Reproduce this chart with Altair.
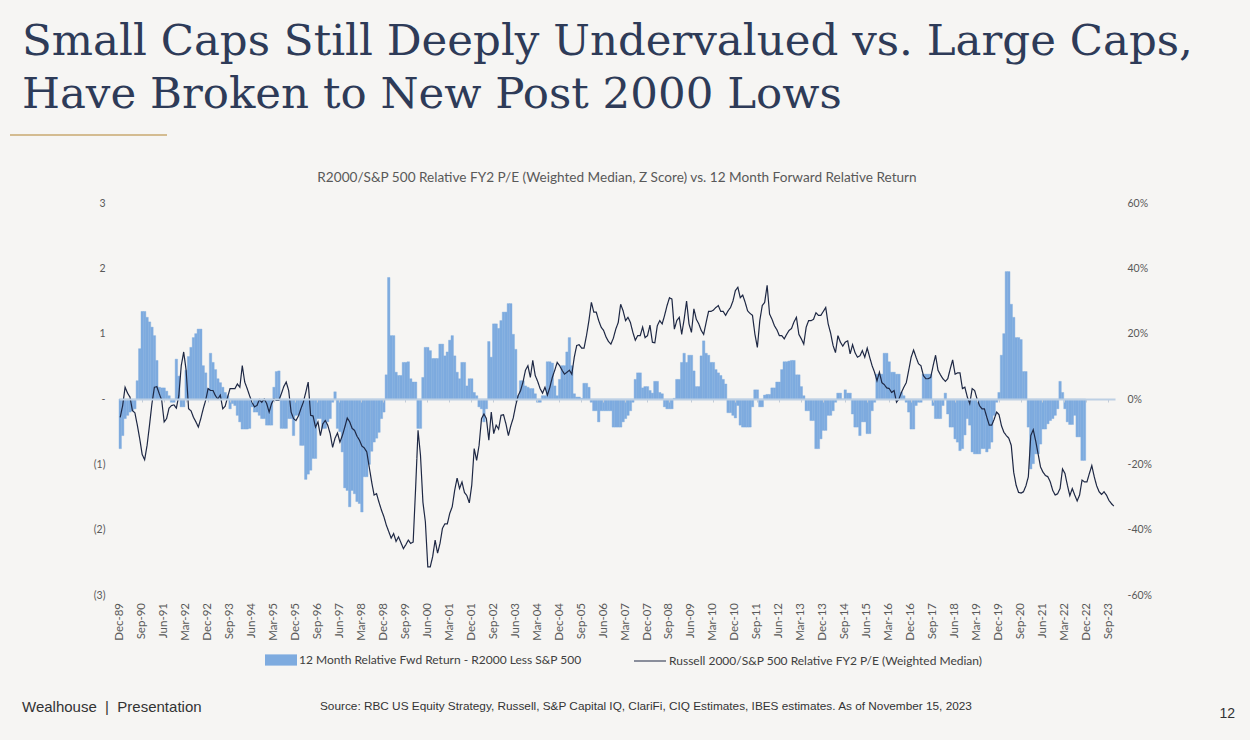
import altair as alt
import pandas as pd

# ---------------- data ----------------
months = pd.date_range("1989-12-01", "2023-11-01", freq="MS")
month_labels = [d.strftime("%b-%y") for d in months]

tick_labels = ["Dec-89", "Sep-90", "Jun-91", "Mar-92", "Dec-92", "Sep-93", "Jun-94", "Mar-95",
               "Dec-95", "Sep-96", "Jun-97", "Mar-98", "Dec-98", "Sep-99", "Jun-00", "Mar-01",
               "Dec-01", "Sep-02", "Jun-03", "Mar-04", "Dec-04", "Sep-05", "Jun-06", "Mar-07",
               "Dec-07", "Sep-08", "Jun-09", "Mar-10", "Dec-10", "Sep-11", "Jun-12", "Mar-13",
               "Dec-13", "Sep-14", "Jun-15", "Mar-16", "Dec-16", "Sep-17", "Jun-18", "Mar-19",
               "Dec-19", "Sep-20", "Jun-21", "Mar-22", "Dec-22", "Sep-23"]

# 12 month forward relative return, R2000 less S&P 500 (%), Dec-89 .. Nov-22
fwd_return = [
    -15.2,
    -11.2, -6.0, -5.0, -4.0, -3.6, -3.0, 5.6, 15.4, 26.8, 26.8, 25.0, 23.6,
    22.0, 19.4, 11.8, 3.6, 3.4, 3.4, 2.4, 1.0, -1.0, -1.0, 12.2, 7.0,
    -2.4, -2.4, 8.8, 13.0, 15.8, 18.8, 20.0, 21.4, 21.4, 10.2, 8.0, 3.2,
    14.0, 11.2, 9.0, 6.2, 5.0, 3.6, 2.0, 1.0, -3.0, -1.4, -2.0, -5.0,
    -7.0, -9.2, -9.2, -9.2, -9.0, -2.4, -4.0, -4.0, -5.0, -6.0, -6.0, -8.0,
    -8.0, -8.0, 3.6, 8.4, 8.6, -9.0, -9.0, -9.0, -6.0, -6.0, -11.2, -5.0,
    -5.0, -14.2, -14.2, -24.6, -23.0, -21.8, -18.2, -18.2, -6.0, -6.0, -9.0, -9.0,
    -7.0, -6.0, -1.0, 2.2, -9.0, -10.0, -16.2, -27.2, -28.0, -33.0, -28.0, -29.0,
    -31.4, -32.0, -34.6, -23.8, -23.8, -20.0, -16.0, -13.2, -12.0, -10.2, -6.0, -4.0,
    7.4, 37.2, 19.4, 19.4, 8.2, 7.2, 7.2, 11.2, 11.2, 11.4, 6.2, 5.2,
    5.2, -9.0, -9.0, 6.6, 15.8, 15.8, 14.8, 12.4, 12.4, 12.4, 16.8, 16.8,
    13.2, 14.4, 18.0, 19.4, 13.2, 8.2, 6.2, 11.2, 11.2, 4.0, 6.2, 6.2,
    2.0, 1.0, -2.4, -3.0, -7.0, -3.0, 17.6, 12.8, 23.0, 23.0, 21.6, 24.0,
    26.6, 26.6, 29.2, 29.2, 19.8, 15.2, 1.0, 5.6, 5.6, 4.0, 3.6, 3.2,
    3.2, 1.6, -1.0, -1.0, 1.0, 1.0, 11.4, 11.4, 11.0, 4.0, 1.0, 6.0,
    10.2, 10.2, 14.4, 18.8, 10.2, 1.6, 0.6, 0.6, 0.2, 4.8, 4.8, 3.6,
    -1.0, -3.6, -3.6, -7.0, -3.6, -3.6, -3.6, -3.6, -3.6, -8.6, -8.6, -8.6,
    -8.6, -7.0, -6.0, -5.0, -3.6, -1.0, 6.0, 8.0, 8.0, 3.4, 3.8, 3.8,
    2.6, 1.8, 5.4, 5.4, 2.0, 1.6, -2.4, -3.0, -3.0, -3.0, 0.2, 6.0,
    6.0, 11.2, 14.0, 11.2, 13.4, 13.4, 8.6, 3.8, 3.8, 13.2, 17.8, 14.0,
    13.4, 11.2, 11.2, 9.0, 8.0, 7.2, 6.0, 4.6, -4.2, -4.2, -5.0, -5.8,
    -2.0, -8.0, -8.6, -8.6, -8.6, -8.6, -2.4, 2.8, 2.8, -2.4, -2.4, 1.2,
    1.4, 1.4, 3.4, 3.4, 5.2, 5.2, 9.0, 11.4, 11.4, 11.6, 11.8, 11.8,
    7.4, 7.4, 3.8, 1.0, -3.6, -3.6, -6.6, -6.6, -15.2, -15.2, -12.2, -9.6,
    -9.6, -5.0, -5.0, -3.6, -1.0, 1.8, 1.8, 0.0, 2.8, 1.8, 1.8, -4.6,
    -8.6, -8.6, -11.2, -7.0, -7.0, -10.6, -10.6, -3.6, -1.0, 7.6, 7.6, 7.6,
    14.0, 14.0, 11.4, 8.2, 8.2, 7.6, 7.6, 2.0, 1.0, -1.0, -4.0, -9.2,
    -9.2, -2.0, -1.0, -1.0, 7.6, 7.6, 7.6, 7.6, -2.0, -6.0, -6.0, -6.0,
    -2.0, 1.8, -4.6, -8.6, -8.6, -12.2, -13.2, -15.8, -15.2, -11.0, -6.0, -8.0,
    -16.2, -16.8, -16.8, -16.8, -15.2, -15.2, -16.2, -15.2, -13.2, -5.0, -1.0, 2.0,
    13.4, 20.0, 39.0, 39.0, 29.0, 25.0, 18.8, 18.8, 18.2, 8.4, 8.4, -8.6,
    -21.4, -19.8, -16.8, -16.8, -13.8, -9.2, -9.2, -7.6, -6.6, -6.0, -5.0, -3.0,
    5.4, 2.0, -3.0, -7.0, -7.8, -7.8, -5.0, -11.6, -11.6, -18.8, -18.8,
]

# Russell 2000 / S&P 500 relative FY2 P/E, weighted median, z score, Dec-89 .. Nov-23
pe_zscore = [
    -0.28,
    -0.10, 0.18, 0.09, 0.03, -0.18, -0.21, -0.40, -0.61, -0.85, -0.93, -0.71, -0.40,
    -0.07, 0.18, 0.19, 0.08, -0.02, -0.35, -0.30, -0.14, -0.10, -0.09, -0.14, 0.05,
    0.51, 0.72, 0.44, -0.15, -0.18, -0.28, -0.35, -0.43, -0.30, -0.15, -0.02, 0.16,
    0.13, 0.13, 0.05, 0.00, 0.06, -0.15, -0.11, 0.03, 0.16, 0.16, 0.16, 0.23,
    0.18, 0.51, 0.26, 0.16, 0.05, -0.05, -0.12, -0.10, -0.01, -0.05, 0.00, -0.07,
    -0.20, -0.07, 0.00, -0.02, -0.02, 0.08, 0.19, 0.26, 0.13, -0.20, -0.30, -0.33,
    -0.26, -0.15, -0.05, 0.10, 0.26, -0.25, -0.26, -0.43, -0.35, -0.56, -0.38, -0.33,
    -0.40, -0.53, -0.74, -0.60, -0.52, -0.66, -0.56, -0.43, -0.29, -0.35, -0.45, -0.48,
    -0.57, -0.63, -0.72, -0.75, -0.81, -1.04, -1.27, -1.47, -1.45, -1.58, -1.70, -1.80,
    -1.93, -2.03, -2.13, -2.06, -2.18, -2.11, -2.20, -2.29, -2.23, -2.16, -2.21, -2.19,
    -1.37, -0.48, -0.86, -1.58, -1.88, -2.57, -2.57, -2.41, -2.16, -2.36, -2.21, -1.98,
    -1.91, -1.91, -1.75, -1.65, -1.40, -1.21, -1.37, -1.27, -1.43, -1.48, -1.59, -1.32,
    -0.76, -0.94, -0.71, -0.30, -0.23, -0.30, -0.63, -0.20, -0.53, -0.40, -0.46, -0.25,
    -0.24, -0.38, -0.56, -0.41, -0.29, -0.10, 0.05, 0.13, 0.26, 0.44, 0.51, 0.33,
    0.59, 0.36, 0.27, 0.16, 0.09, 0.18, 0.06, 0.18, 0.33, 0.44, 0.56, 0.51,
    0.44, 0.38, 0.41, 0.44, 0.38, 0.64, 0.82, 0.83, 0.78, 0.78, 0.97, 1.20,
    1.48, 1.33, 1.33, 1.20, 1.10, 1.05, 0.95, 0.88, 0.84, 0.93, 1.07, 1.17,
    1.45, 1.35, 1.20, 1.25, 1.17, 1.02, 0.90, 0.97, 0.97, 1.10, 0.94, 0.97,
    1.13, 0.87, 0.86, 1.12, 1.20, 1.15, 1.28, 1.43, 1.55, 1.53, 1.07, 1.20,
    1.25, 0.99, 1.22, 1.50, 1.15, 1.02, 1.38, 1.22, 1.15, 1.05, 0.99, 1.17,
    1.34, 1.34, 1.36, 1.40, 1.43, 1.34, 1.34, 1.28, 1.35, 1.40, 1.50, 1.66,
    1.71, 1.55, 1.59, 1.48, 1.35, 1.31, 1.28, 0.99, 0.79, 1.20, 1.43, 1.48,
    1.74, 1.30, 1.22, 1.12, 1.06, 0.97, 0.97, 0.92, 0.99, 1.05, 1.08, 1.18,
    1.25, 0.99, 0.92, 0.84, 1.10, 1.20, 1.20, 1.22, 1.32, 1.28, 1.28, 1.34,
    1.40, 1.15, 1.01, 0.82, 0.71, 0.97, 0.87, 0.81, 0.87, 0.89, 0.69, 0.83,
    0.71, 0.64, 0.66, 0.74, 0.64, 0.78, 0.64, 0.51, 0.41, 0.28, 0.41, 0.25,
    0.22, 0.17, 0.16, 0.10, 0.13, -0.05, 0.00, 0.10, 0.18, 0.25, 0.44, 0.64,
    0.75, 0.64, 0.54, 0.51, 0.36, 0.31, 0.31, 0.33, 0.51, 0.67, 0.44, 0.37,
    0.31, 0.27, 0.31, 0.46, 0.60, 0.38, 0.40, 0.40, 0.16, 0.18, 0.03, -0.07,
    0.16, 0.13, 0.00, -0.10, -0.15, -0.15, -0.28, -0.40, -0.40, -0.31, -0.20, -0.24,
    -0.41, -0.51, -0.56, -0.60, -0.71, -1.12, -1.32, -1.43, -1.44, -1.42, -1.33, -1.19,
    -0.56, -0.47, -0.64, -0.84, -1.04, -1.12, -1.17, -1.19, -1.27, -1.40, -1.47, -1.45,
    -1.37, -1.07, -1.14, -1.32, -1.48, -1.37, -1.47, -1.56, -1.47, -1.24, -1.27, -1.27,
    -1.14, -1.02, -1.19, -1.33, -1.42, -1.46, -1.42, -1.47, -1.55, -1.60, -1.64,
]

BAR_NAME = "12 Month Relative Fwd Return - R2000 Less S&P 500"
LINE_NAME = "Russell 2000/S&P 500 Relative FY2 P/E (Weighted Median)"
TITLE = "Small Caps Still Deeply Undervalued vs. Large Caps,\nHave Broken to New Post 2000 Lows"
SUBTITLE = "R2000/S&P 500 Relative FY2  P/E (Weighted Median, Z Score) vs. 12 Month Forward Relative Return"
NB = "\u00a0"
FOOT_LEFT = "Wealhouse" + NB * 2 + "|" + NB * 2 + "Presentation"
FOOT_SRC = ("Source: RBC US Equity Strategy, Russell, S&P Capital IQ, ClariFi, CIQ Estimates, "
            "IBES estimates. As of November 15, 2023")
PAGE = "12"

# ---------------- styling ----------------
BG = "#F6F5F3"
BAR_COLOR = "#7EABDF"
LINE_COLOR = "#1E2844"
TITLE_COLOR = "#2E3B58"
GOLD = "#C8A870"
AX_FONT = "Lato"
FOOT_FONT = "Liberation Sans"
W, H = 996, 392

df_bar = pd.DataFrame({"month": month_labels[:len(fwd_return)], "ret": fwd_return,
                       "bar_series": BAR_NAME})
df_line = pd.DataFrame({"month": month_labels[:len(pe_zscore)], "z": pe_zscore,
                        "line_series": LINE_NAME})
df_ticks = pd.DataFrame({"month": tick_labels})

xscale = alt.Scale(type="band", domain=month_labels, paddingInner=0, paddingOuter=0)

bars = alt.Chart(df_bar).mark_bar(stroke=BAR_COLOR, strokeWidth=0.4).encode(
    x=alt.X("month:N", scale=xscale, axis=None),
    y=alt.Y("ret:Q", scale=alt.Scale(domain=[-60, 60], nice=False),
            axis=alt.Axis(orient="right", values=[-60, -40, -20, 0, 20, 40, 60],
                          labelExpr="datum.value + '%'", grid=False, domain=False, ticks=False,
                          title=None, labelPadding=12, labelAlign="left", labelFont=AX_FONT,
                          labelFontSize=10.5, labelColor="#595959")),
    color=alt.Color("bar_series:N", scale=alt.Scale(domain=[BAR_NAME], range=[BAR_COLOR]),
                    legend=alt.Legend(orient="none", legendX=146, legendY=441, title=None,
                                      symbolType="M-1,-0.35H1V0.35H-1Z", symbolSize=1024,
                                      symbolStrokeWidth=0, symbolOpacity=1, labelOffset=2,
                                      labelFont=AX_FONT, labelFontSize=12, labelColor="#404040",
                                      labelLimit=0, padding=0)),
)

line = alt.Chart(df_line).mark_line(color=LINE_COLOR, strokeWidth=1.2).encode(
    x=alt.X("month:N", scale=xscale,
            axis=alt.Axis(values=tick_labels, labels=False, ticks=True, tickExtra=False,
                          tickSize=3, tickColor="#C4CCD6", domain=True, domainColor="#BDD0E4",
                          domainWidth=2, grid=False, title=None, offset=-196, zindex=1)),
    y=alt.Y("z:Q", scale=alt.Scale(domain=[-3, 3], nice=False),
            axis=alt.Axis(orient="left", values=[-3, -2, -1, 0, 1, 2, 3],
                          labelExpr="datum.value == 0 ? '-' : (datum.value < 0 ? '(' + abs(datum.value) + ')' : '' + datum.value)",
                          grid=False, domain=False, ticks=False, title=None, labelPadding=14,
                          labelFont=AX_FONT, labelFontSize=10.5, labelColor="#595959")),
    strokeDash=alt.StrokeDash("line_series:N",
                              scale=alt.Scale(domain=[LINE_NAME], range=[[1, 0]]),
                              legend=alt.Legend(orient="none", legendX=514, legendY=441,
                                                title=None, symbolType="stroke",
                                                symbolSize=1024, symbolStrokeColor=LINE_COLOR,
                                                symbolStrokeWidth=1.2, labelOffset=2,
                                                labelFont=AX_FONT, labelFontSize=12,
                                                labelColor="#404040", labelLimit=0, padding=0)),
)

# month labels along the bottom, placed through the shared band scale
xlabels = alt.Chart(df_ticks).mark_text(
    angle=270, align="right", baseline="middle", font=AX_FONT, fontSize=11.5,
    color="#595959").encode(
    x=alt.X("month:N", scale=xscale, axis=None),
    y=alt.value(H + 8),
    text="month:N")

one = pd.DataFrame({"t": [0]})

title = alt.Chart(pd.DataFrame({"t": [TITLE]})).mark_text(
    align="left", baseline="alphabetic", font="DejaVu Serif", fontSize=43.5,
    color=TITLE_COLOR, lineBreak="\n", lineHeight=53).encode(
    text="t:N", x=alt.value(-97), y=alt.value(-148))

gold = alt.Chart(one).mark_rule(color=GOLD, strokeWidth=1.5).encode(
    x=alt.value(-109), x2=alt.value(48), y=alt.value(-68))

subtitle = alt.Chart(pd.DataFrame({"t": [SUBTITLE]})).mark_text(
    align="center", baseline="middle", font=AX_FONT, fontSize=13.6, color="#595959").encode(
    text="t:N", x=alt.value(498), y=alt.value(-25))

foot_left = alt.Chart(pd.DataFrame({"t": [FOOT_LEFT]})).mark_text(
    align="left", baseline="middle", font=FOOT_FONT, fontSize=15, color="#333333").encode(
    text="t:N", x=alt.value(-97), y=alt.value(504))

foot_src = alt.Chart(pd.DataFrame({"t": [FOOT_SRC]})).mark_text(
    align="left", baseline="middle", font=FOOT_FONT, fontSize=11.8, color="#333333").encode(
    text="t:N", x=alt.value(201), y=alt.value(503))

page = alt.Chart(pd.DataFrame({"t": [PAGE]})).mark_text(
    align="right", baseline="middle", font=FOOT_FONT, fontSize=14, color="#333333").encode(
    text="t:N", x=alt.value(1116), y=alt.value(511))

chart = alt.layer(bars, line, xlabels, title, gold, subtitle, foot_left, foot_src,
                  page).resolve_scale(y="independent").resolve_axis(
    x="independent", y="independent").properties(
    width=W, height=H, background=BG,
    autosize=alt.AutoSizeParams(type="none"),
    padding={"left": 119, "top": 203, "right": 135, "bottom": 145},
).configure_view(stroke=None)

chart.save("out.html", embed_options={"renderer": "svg", "actions": False})
